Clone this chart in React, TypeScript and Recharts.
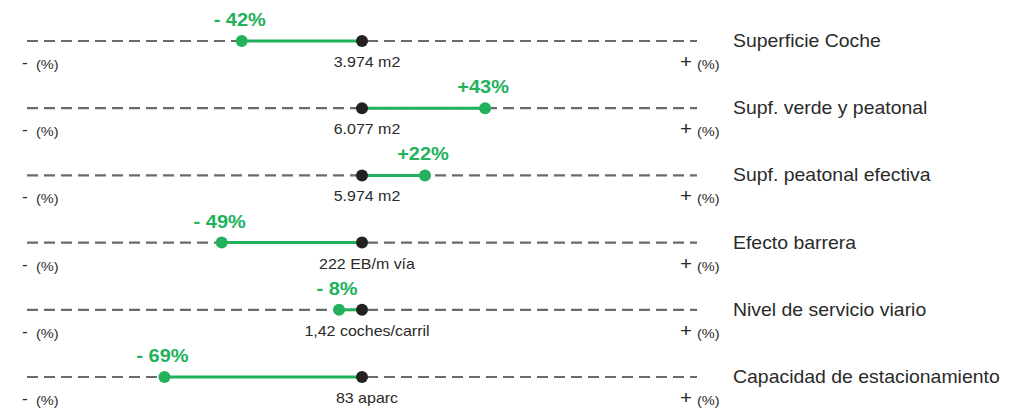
import React from 'react';
import { ScatterChart, Scatter, XAxis, YAxis, ReferenceLine } from 'recharts';

const rowNames = [
  'Superficie Coche',
  'Supf. verde y peatonal',
  'Supf. peatonal efectiva',
  'Efecto barrera',
  'Nivel de servicio viario',
  'Capacidad de estacionamiento',
];
const changes = [-42, 43, 22, -49, -8, -69];
const baseValues = ['3.974 m2', '6.077 m2', '5.974 m2', '222 EB/m vía', '1,42 coches/carril', '83 aparc'];

const LIMIT = 117;
const GREEN = '#22b25b';
const INK = '#2a2a2a';
const FONT = '"Liberation Sans", Arial, sans-serif';
const SX = 1.08; // source text looks slightly wide

const rows = rowNames.map((name, i) => ({ row: i, name, change: changes[i], base: baseValues[i] }));
const centerPts = rows.map((r) => ({ x: 0, y: r.row, label: r.base }));
const changePts = rows.map((r) => ({ x: r.change, y: r.row, change: r.change }));
const leftPts = rows.map((r) => ({ x: -LIMIT, y: r.row }));
const rightPts = rows.map((r) => ({ x: LIMIT, y: r.row, name: r.name }));

const fmtPct = (v: number) => (v < 0 ? `- ${Math.abs(v)}%` : `+${v}%`);

// text stretched a bit horizontally around its anchor
const WideText = ({ x, y, children, ...rest }: any) => (
  <g transform={`translate(${x},${y}) scale(${SX},1)`}>
    <text x={0} y={0} fontFamily={FONT} {...rest}>
      {children}
    </text>
  </g>
);

const CenterDot = (props: any) => {
  const { cx, cy, payload } = props;
  return (
    <g>
      <circle cx={cx} cy={cy} r={6} fill="#222" />
      <WideText x={cx + 5} y={cy + 26} textAnchor="middle" fontSize={14.8} fill={INK}>
        {payload.label}
      </WideText>
    </g>
  );
};

const ChangeDot = (props: any) => {
  const { cx, cy, payload } = props;
  return (
    <g>
      <circle cx={cx} cy={cy} r={6} fill={GREEN} />
      <WideText x={cx - 2} y={cy - 15} textAnchor="middle" fontSize={18.5} fontWeight="bold" fill={GREEN}>
        {fmtPct(payload.change)}
      </WideText>
    </g>
  );
};

const LeftMark = (props: any) => {
  const { cx, cy } = props;
  return (
    <g>
      <WideText x={cx - 5} y={cy + 27} fontSize={16} fill={INK}>-</WideText>
      <WideText x={cx + 9} y={cy + 28} fontSize={13.5} fill={INK}>(%)</WideText>
    </g>
  );
};

const RightMark = (props: any) => {
  const { cx, cy, payload } = props;
  return (
    <g>
      <WideText x={cx - 17} y={cy + 27} fontSize={19} fill={INK}>+</WideText>
      <WideText x={cx} y={cy + 28} fontSize={13.5} fill={INK}>(%)</WideText>
      <WideText x={cx + 36} y={cy + 6} fontSize={18} fill={INK}>
        {payload.name}
      </WideText>
    </g>
  );
};

export default function App() {
  return (
    <div style={{ position: 'absolute', left: 0, top: 0, background: '#fff' }}>
      <ScatterChart width={1021} height={410} margin={{ top: 41, right: 324, bottom: 33, left: 27 }}>
        <XAxis type="number" dataKey="x" domain={[-LIMIT, LIMIT]} hide />
        <YAxis type="number" dataKey="y" domain={[0, rows.length - 1]} reversed hide />
        {rows.map((r) => (
          <ReferenceLine
            key={`dash-${r.row}`}
            segment={[{ x: -LIMIT, y: r.row }, { x: LIMIT, y: r.row }]}
            stroke="#6a6a6a"
            strokeWidth={2.2}
            strokeDasharray="11 6"
          />
        ))}
        {rows.map((r) => (
          <ReferenceLine
            key={`chg-${r.row}`}
            segment={[{ x: 0, y: r.row }, { x: r.change, y: r.row }]}
            stroke={GREEN}
            strokeWidth={3}
          />
        ))}
        <Scatter data={leftPts} shape={LeftMark} isAnimationActive={false} />
        <Scatter data={rightPts} shape={RightMark} isAnimationActive={false} />
        <Scatter data={centerPts} shape={CenterDot} isAnimationActive={false} />
        <Scatter data={changePts} shape={ChangeDot} isAnimationActive={false} />
      </ScatterChart>
    </div>
  );
}
